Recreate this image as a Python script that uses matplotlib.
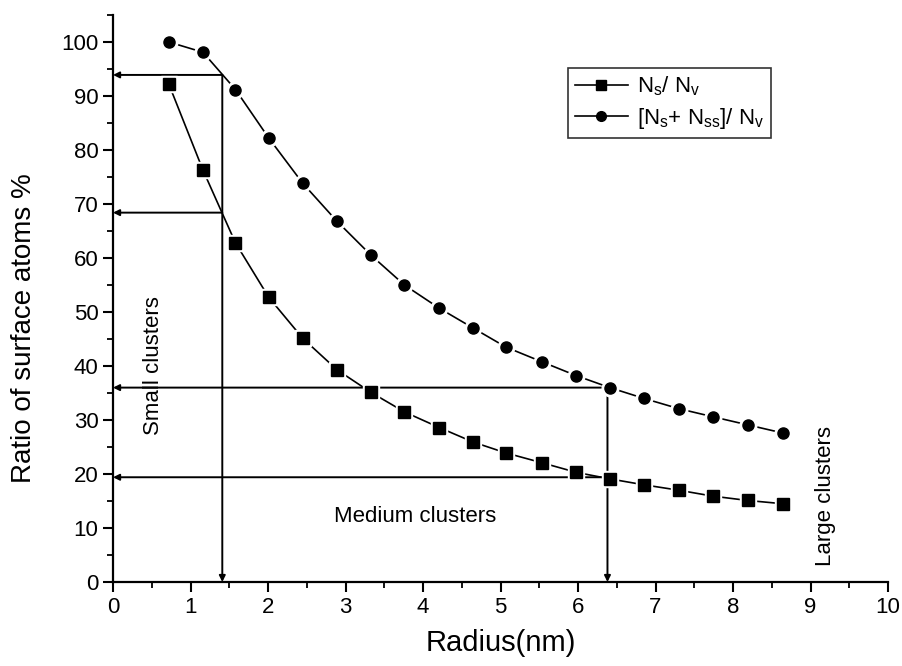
import matplotlib
matplotlib.use("Agg")
import matplotlib.pyplot as plt
from matplotlib.ticker import MultipleLocator

plt.rcParams['font.family'] = ['Liberation Sans', 'DejaVu Sans']
plt.rcParams['mathtext.default'] = 'regular'

# cluster radius (nm) and surface atom ratios (%)
radius = [0.72, 1.16, 1.58, 2.01, 2.45, 2.89, 3.33, 3.76, 4.21, 4.65,
          5.07, 5.53, 5.98, 6.41, 6.85, 7.30, 7.74, 8.19, 8.64]
ns_nv = [92.2, 76.3, 62.8, 52.7, 45.1, 39.3, 35.1, 31.5, 28.6, 25.9,
         23.9, 22.1, 20.3, 19.1, 18.0, 17.0, 15.9, 15.1, 14.5]
ns_nss_nv = [100.0, 98.1, 91.2, 82.2, 73.8, 66.8, 60.5, 55.0, 50.7, 47.0,
             43.5, 40.8, 38.2, 36.0, 34.0, 32.1, 30.6, 29.1, 27.6]

# size limits between small/medium and medium/large clusters
cut_radius = [1.41, 6.38]
cut_levels = [[93.9, 68.4], [36.0, 19.4]]

fig = plt.figure(figsize=(9.02, 6.66), dpi=100)
ax = fig.add_axes([0.1253, 0.1261, 0.8592, 0.8514])

series = [(ns_nv, 's', r'$N_s$/ $N_v$'),
          (ns_nss_nv, 'o', r'[$N_s$+ $N_{ss}$]/ $N_v$')]
for values, mk, lab in series:
    ax.plot(radius, values, color='black', lw=1.2, zorder=2)
    # white halo so the line stops short of each marker
    ax.plot(radius, values, ls='none', marker=mk, ms=12, mfc='white',
            mec='white', zorder=3)
    ax.plot(radius, values, ls='none', marker=mk, ms=8, mfc='black',
            mec='black', zorder=4)
# legend handles drawn as line + marker
handles = [ax.plot([], [], color='black', lw=1.2, marker=mk, ms=7,
                   label=lab)[0] for _, mk, lab in series]

arrow = dict(arrowstyle='-|>', color='black', lw=1.4,
             mutation_scale=9, shrinkA=0, shrinkB=0)
for r, levels in zip(cut_radius, cut_levels):
    top = levels[0]
    ax.annotate('', xy=(r, 0), xytext=(r, top), arrowprops=arrow, zorder=1)
    for lv in levels:
        ax.annotate('', xy=(0, lv), xytext=(r, lv), arrowprops=arrow, zorder=1)

ax.text(0.52, 40, 'Small clusters', rotation=90, ha='center', va='center',
        fontsize=16)
ax.text(3.9, 12.1, 'Medium clusters', ha='center', va='center', fontsize=16)
ax.text(9.19, 16, 'Large clusters', rotation=90, ha='center', va='center',
        fontsize=16)

ax.set_xlim(0, 10)
ax.set_ylim(0, 105)
ax.xaxis.set_major_locator(MultipleLocator(1))
ax.xaxis.set_minor_locator(MultipleLocator(0.5))
ax.yaxis.set_major_locator(MultipleLocator(10))
ax.yaxis.set_minor_locator(MultipleLocator(5))
ax.set_yticks(range(0, 101, 10))

for side in ['top', 'right']:
    ax.spines[side].set_visible(False)
for side in ['left', 'bottom']:
    ax.spines[side].set_linewidth(1.6)
ax.tick_params(which='major', direction='out', length=7, width=1.5,
               labelsize=16)
ax.tick_params(which='minor', direction='out', length=4, width=1.3)

ax.set_xlabel('Radius(nm)', fontsize=21, labelpad=8)
ax.set_ylabel('Ratio of surface atoms %', fontsize=20)
ax.yaxis.set_label_coords(-0.098, 0.448)

leg = ax.legend(handles=handles, loc='upper left',
                bbox_to_anchor=(0.587, 0.9065), fontsize=16, frameon=True,
                fancybox=False, edgecolor='black', handlelength=2.4,
                handletextpad=0.4, borderpad=0.3, borderaxespad=0,
                labelspacing=0.35)
leg.get_frame().set_linewidth(1.2)

fig.savefig('out.png', dpi=100)
